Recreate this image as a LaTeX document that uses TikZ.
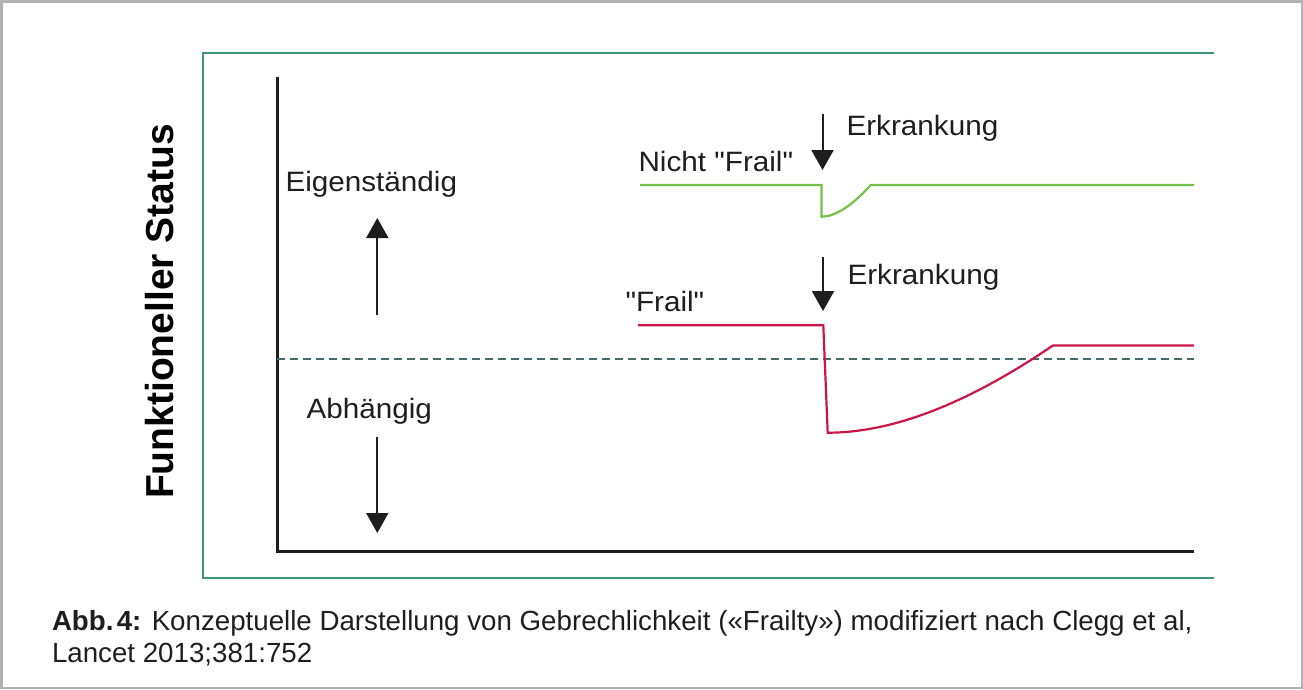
\documentclass[tikz,border=0pt]{standalone}
\usepackage{fontspec}
\setmainfont{Liberation Sans}
\newfontfamily\lblfont[FakeStretch=1.06]{Liberation Sans}
\usetikzlibrary{arrows.meta}
\definecolor{framegreen}{RGB}{60,150,118}
\definecolor{curvegreen}{RGB}{116,192,72}
\definecolor{curvered}{RGB}{204,20,70}
\definecolor{dashcol}{RGB}{72,108,108}
\definecolor{ink}{RGB}{30,30,30}
\definecolor{bordergray}{RGB}{178,178,178}
\begin{document}
\begin{tikzpicture}[x=1pt,y=-1pt,
  lbl/.style={inner sep=0pt, outer sep=0pt, anchor=base west, text=ink,
    font=\lblfont\fontsize{28pt}{32pt}\selectfont},
  caption/.style={inner sep=0pt, outer sep=0pt, anchor=base west, text=ink,
    font=\fontsize{27.7pt}{32pt}\selectfont},
  ylabel/.style={inner sep=0pt, outer sep=0pt, anchor=base, rotate=90, text=black,
    font=\bfseries\fontsize{39pt}{44pt}\selectfont},
  frameline/.style={draw=framegreen, line width=2pt},
  axisline/.style={draw=ink, line width=3pt},
  thresh/.style={draw=dashcol, line width=2pt, dash pattern=on 8pt off 5pt},
  greencurve/.style={draw=curvegreen, line width=2.2pt},
  redcurve/.style={draw=curvered, line width=2.2pt},
  bigarrow/.style={draw=ink, line width=2pt, -{Triangle[width=22pt,length=20pt]}}
]
\useasboundingbox (0,0) rectangle (1303,689);
% outer grey border
\draw[draw=bordergray, line width=2.5pt] (1.25,1.25) rectangle (1301.75,687.75);

% green frame (open on the right)
\coordinate (ftr) at (1214,52.5);
\coordinate (ftl) at (203,52.5);
\coordinate (fbl) at (203,577.5);
\coordinate (fbr) at (1214,577.5);
\draw[frameline] (ftr) -- (ftl) -- (fbl) -- (fbr);

% axes
\coordinate (ytop) at (277,77);
\coordinate (orig) at (277,551.5);
\coordinate (xend) at (1194,551.5);
\draw[axisline] (ytop) -- (orig) -- (xend);

% threshold
\coordinate (th0) at (277,359);
\coordinate (th1) at (1194,359);
\draw[thresh] (th0) -- (th1);

% y label
\node[ylabel] (ylab) at (173,311.5) {Funktioneller Status};

% left labels and arrows
\node[lbl] (eig) at (285.5,191.7) {Eigenständig};
\node[lbl] (abh) at (306.5,418) {Abhängig};
\coordinate (upS) at (377.3,315);
\coordinate (upE) at (377.3,218);
\coordinate (dnS) at (377.3,437);
\coordinate (dnE) at (377.3,533);
\draw[bigarrow] (upS) -- (upE);
\draw[bigarrow] (dnS) -- (dnE);

% not frail curve
\node[lbl] (nf) at (638.5,171.7) {Nicht "Frail"};
\coordinate (g0) at (640,185);
\coordinate (g1) at (821.5,185);
\coordinate (g2) at (821.5,216.7);
\coordinate (g3) at (870.7,185);
\coordinate (g4) at (1194,185);
\draw[greencurve, line join=miter] (g0) -- (g1) -- (g2)
  .. controls (834.8,216.7) and (851.5,206.3) .. (g3) -- (g4);
\coordinate (e1S) at (822.5,114);
\coordinate (e1E) at (822.5,170);
\draw[bigarrow] (e1S) -- (e1E);
\node[lbl] (erk1) at (846.5,135.5) {Erkrankung};

% frail curve
\node[lbl] (fr) at (625.5,311.7) {"Frail"};
\coordinate (r0) at (638,325.3);
\coordinate (r1) at (823.3,325.3);
\coordinate (r2) at (827.7,432.7);
\coordinate (r3) at (1053,345.4);
\coordinate (r4) at (1194,345.4);
\draw[redcurve, line join=miter] (r0) -- (r1) -- (r2)
  .. controls (892.7,432.7) and (967.7,403.6) .. (r3) -- (r4);
\coordinate (e2S) at (823,257);
\coordinate (e2E) at (823,311);
\draw[bigarrow] (e2S) -- (e2E);
\node[lbl] (erk2) at (847.5,284) {Erkrankung};

% caption
\node[caption] (cap1) at (52,630) {\textbf{Abb.\hspace{0.12em}4:} Konzeptuelle Darstellung von Gebrechlichkeit («Frailty») modifiziert nach Clegg et al,};
\node[caption] (cap2) at (52,662) {Lancet 2013;381:752};
\end{tikzpicture}
\end{document}
